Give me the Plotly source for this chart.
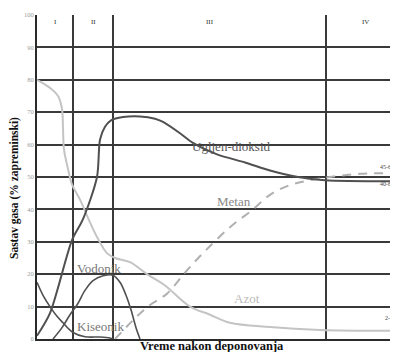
import plotly.graph_objects as go

# x: relative time units (no numeric axis labels in the original)
co2_x = [0, 13, 35, 46, 60, 63, 68, 74, 86, 103, 118, 126, 143, 156, 180, 208, 233, 261, 288, 361]
co2_y = [1, 8, 30.5, 37, 50, 61.5, 65.5, 67.5, 68.5, 68.7, 68, 67, 63.5, 60.5, 57, 54.5, 52, 50, 49, 48.7]

ch4_x = [78, 100, 113, 130, 148, 166, 193, 216, 233, 253, 273, 293, 323, 361]
ch4_y = [0, 7, 10.5, 14, 20.5, 26.5, 34.5, 40, 44.5, 47.5, 49, 50, 51, 51.2]

n2_x = [0, 13, 21, 25, 26, 27, 31, 35, 43, 53, 60, 70, 78, 93, 110, 128, 153, 173, 193, 233, 283, 361]
n2_y = [80, 77.5, 75, 71, 65, 58.5, 52.5, 47.7, 43, 36, 31.5, 26.5, 25, 23.7, 20, 16.5, 10, 7.5, 5, 3.7, 2.8, 2.5]

o2_x = [0, 6, 13, 20, 26, 36, 48, 63, 73, 76]
o2_y = [17.5, 13.5, 10, 7, 5, 2, 0.7, 0.6, 0.3, 0]

h2_x = [16, 25, 33, 40, 48, 56, 66, 76, 83, 89, 94, 99, 103]
h2_y = [0, 3.5, 7.5, 10.5, 15, 18, 19.5, 19.7, 17.5, 13.5, 9, 3.5, 0]

phase_bounds = [36, 76, 289]
phase_labels = ["I", "II", "III", "IV"]
phase_label_x = [18, 56, 173, 328]

y_ticks = [0, 10, 20, 30, 40, 50, 60, 70, 80, 90, 100]

curve_labels = ["Ugljen-dioksid", "Metan", "Azot", "Vodonik", "Kiseonik"]
curve_label_x = [153, 178, 195, 38, 38]
curve_label_y = [59.5, 42.5, 12.6, 21.8, 4]

range_labels = ["45-60%", "40-60%", "2-5%"]
range_label_x = [341, 341, 346]
range_label_y = [53, 47.8, 6.5]

DARK = "#505050"
LIGHT = "#c4c4c4"
SERIF = "Liberation Serif, Times New Roman, serif"

fig = go.Figure()
fig.add_trace(go.Scatter(x=n2_x, y=n2_y, mode="lines", line=dict(color=LIGHT, width=2, shape="spline"), name="Azot"))
fig.add_trace(go.Scatter(x=ch4_x, y=ch4_y, mode="lines", line=dict(color="#b0b0b0", width=2, dash="9px,7px", shape="spline"), name="Metan"))
fig.add_trace(go.Scatter(x=co2_x, y=co2_y, mode="lines", line=dict(color=DARK, width=2, shape="spline", smoothing=0.8), name="Ugljen-dioksid"))
fig.add_trace(go.Scatter(x=o2_x, y=o2_y, mode="lines", line=dict(color=DARK, width=1.6, shape="spline"), name="Kiseonik"))
fig.add_trace(go.Scatter(x=h2_x, y=h2_y, mode="lines", line=dict(color=DARK, width=1.6, shape="spline"), name="Vodonik"))

ann = []
for t, x in zip(phase_labels, phase_label_x):
    ann.append(dict(x=x, y=97.8, text=t, showarrow=False, xanchor="center", yanchor="middle",
                    font=dict(family=SERIF, size=7, color="#333")))
label_colors = ["#555", "#888", "#bbbbbb", "#777", "#777"]
for t, x, y, c in zip(curve_labels, curve_label_x, curve_label_y, label_colors):
    ann.append(dict(x=x, y=y, text=t, showarrow=False, xanchor="left", yanchor="middle",
                    font=dict(family=SERIF, size=13, color=c)))
for t, x, y in zip(range_labels, range_label_x, range_label_y):
    ann.append(dict(x=x, y=y, text=t, showarrow=False, xanchor="left", yanchor="middle",
                    font=dict(family=SERIF, size=6, color="#444")))
ann.append(dict(xref="paper", yref="paper", x=(212 - 37) / 361, y=-0.022, text="<b>Vreme nakon deponovanja</b>",
                showarrow=False, xanchor="center", yanchor="middle",
                font=dict(family=SERIF, size=12.5, color="#111")))
ann.append(dict(xref="paper", yref="paper", x=-22 / 361, y=(339 - 188) / 324, text="<b>Sastav gasa (% zapreminski)</b>",
                showarrow=False, textangle=-90, xanchor="center", yanchor="middle",
                font=dict(family=SERIF, size=11.5, color="#111")))

# the page body adds an 8px offset, so the figure is 8px smaller on each axis
fig.update_layout(
    width=390, height=344,
    margin=dict(l=29, r=0, t=7, b=13),
    paper_bgcolor="white", plot_bgcolor="white",
    showlegend=False,
    annotations=ann,
    xaxis=dict(range=[0, 361], tickvals=phase_bounds, showticklabels=False, ticks="",
               showgrid=True, gridcolor="#3a3a3a", gridwidth=1.5,
               showline=True, linecolor="#2a2a2a", linewidth=2, zeroline=False, fixedrange=True),
    yaxis=dict(range=[0, 100], tickvals=y_ticks, ticks="",
               tickfont=dict(family=SERIF, size=6.5, color="#999"),
               showgrid=True, gridcolor="#3a3a3a", gridwidth=1.5,
               showline=True, linecolor="#2a2a2a", linewidth=2, zeroline=False, fixedrange=True),
)

fig.write_html("out.html")
